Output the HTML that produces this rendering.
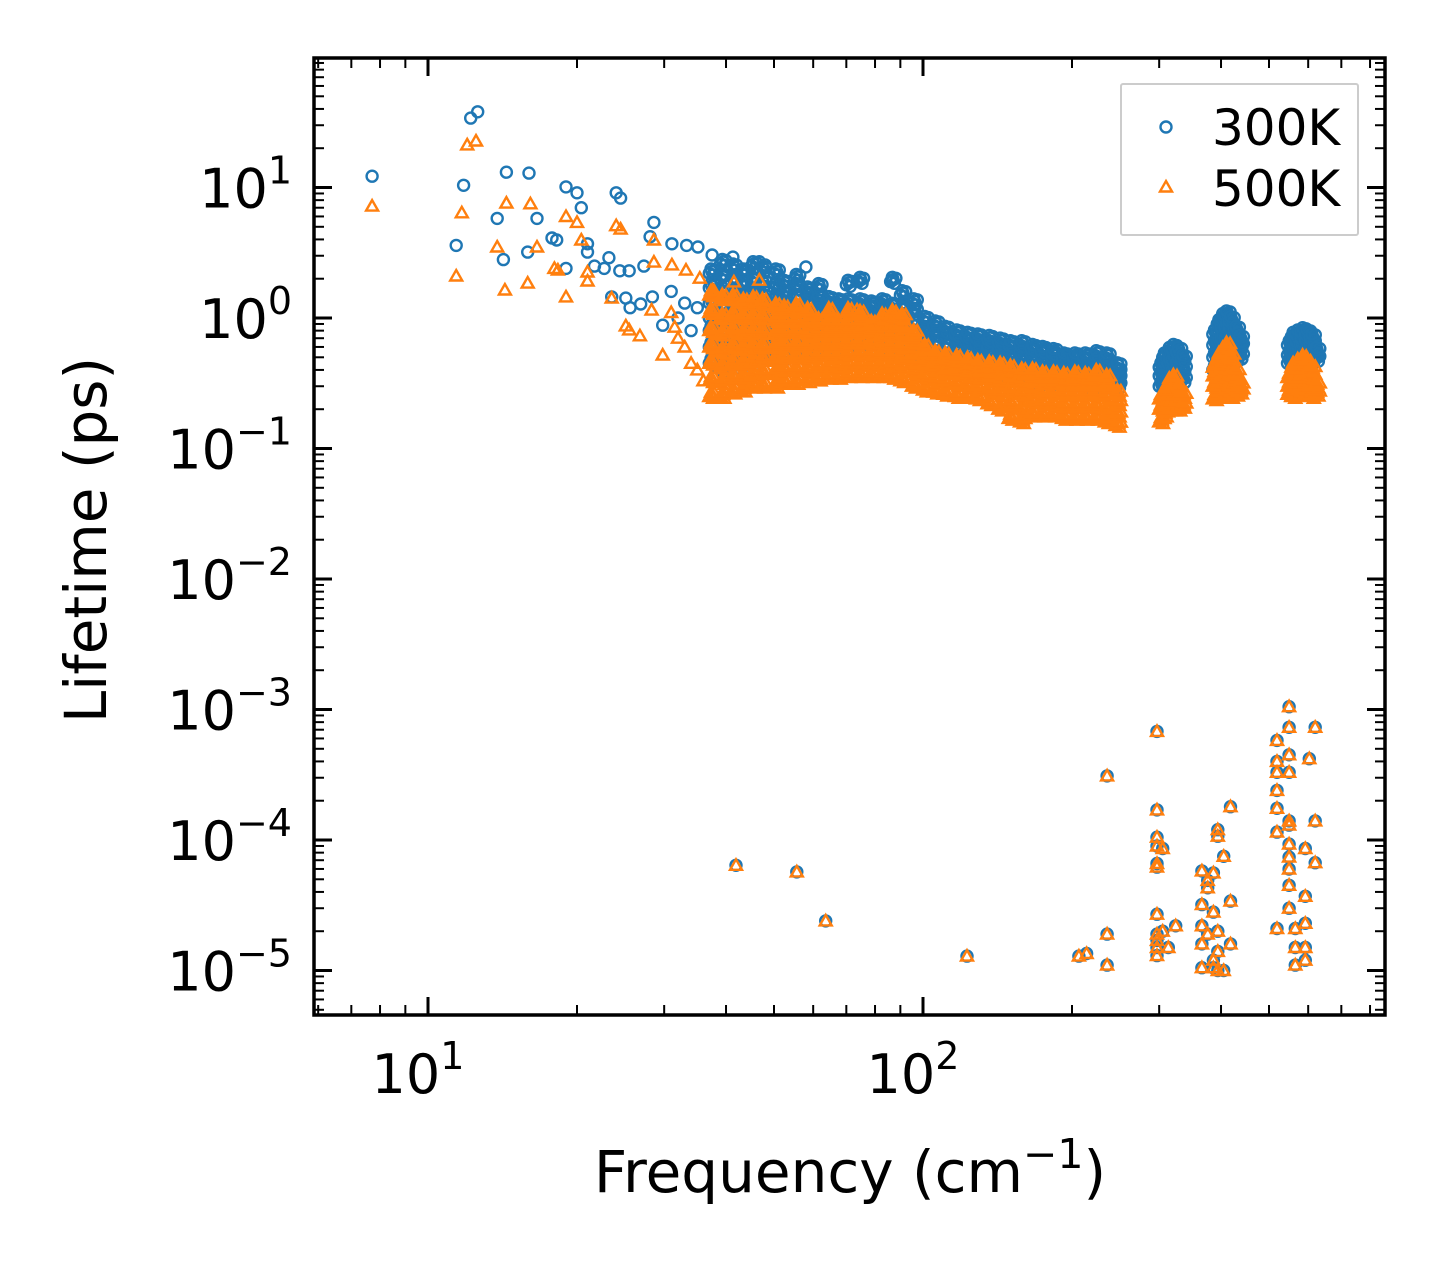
<!DOCTYPE html>
<html><head><meta charset="utf-8"><style>
html,body{margin:0;padding:0;background:#fff;}
svg{display:block;font-family:"DejaVu Sans","Liberation Sans",sans-serif;}
</style></head><body>
<svg id="chart" width="1443" height="1265" viewBox="0 0 1443 1265" xmlns="http://www.w3.org/2000/svg">
<rect width="1443" height="1265" fill="#fff"/>
<g id="marks"></g>
<g id="axes"></g>
<g>
<rect x="1121" y="84" width="237" height="151" fill="#fff" fill-opacity="0.8" stroke="#ccc" stroke-width="2" rx="2"/>
<circle cx="1166" cy="127" r="5.5" fill="none" stroke="#1f77b4" stroke-width="2.4"/>
<text x="1212" y="145" font-size="50">300K</text>
<path d="M1166,181 L1172,191.5 L1160,191.5 Z" fill="none" stroke="#ff7f0e" stroke-width="2.4"/>
<text x="1212" y="206" font-size="50">500K</text>
</g>
<text x="850" y="1192" font-size="58" text-anchor="middle">Frequency (cm<tspan dy="-24" font-size="41">−1</tspan><tspan dy="24">)</tspan></text>
<text transform="translate(106,540) rotate(-90)" font-size="58" text-anchor="middle">Lifetime (ps)</text>
</svg>
<script>
// ---- data ----
const bandFreqs = [37,39,41,43,45,47,50,52,55,58,61,64,67,70,74,78,82,86,90,95,100,105,110,116,122,128,135,142,149,157,165,173,182,191,201,211,222,233,245,300,305,312,318,325,332,385,393,400,407,415,425,433,545,555,567,580,592,605,618];
const band300 = [
[0.45,0.6,0.8,1.0,1.3,1.7,2.2],[0.4,0.55,0.7,0.9,1.2,1.5,2.0,2.6],[0.42,0.5,0.65,0.85,1.1,1.4,1.9,2.4],[0.45,0.55,0.7,0.9,1.1,1.4,1.8,2.2],
[0.45,0.6,0.75,0.95,1.2,1.5,1.9,2.5],[0.5,0.6,0.75,0.9,1.1,1.4,1.8,2.3],[0.5,0.62,0.78,0.95,1.15,1.4,1.7,2.2],[0.5,0.65,0.8,1.0,1.2,1.5,1.8],
[0.52,0.65,0.8,0.95,1.15,1.4,1.7,2.0],[0.55,0.68,0.82,1.0,1.2,1.45,1.6],[0.55,0.7,0.85,1.0,1.2,1.4,1.7],[0.55,0.7,0.85,1.0,1.2,1.35],
[0.6,0.72,0.86,1.0,1.15,1.3],[0.6,0.72,0.85,1.0,1.15,1.3,1.8],[0.6,0.72,0.85,1.0,1.15,1.3,1.9],[0.6,0.72,0.85,1.0,1.15,1.25],
[0.6,0.72,0.85,1.0,1.15,1.3],[0.6,0.72,0.85,1.0,1.2,1.9],[0.55,0.7,0.85,1.0,1.2,1.5],[0.5,0.62,0.75,0.9,1.1,1.3],
[0.45,0.55,0.68,0.8,0.95],[0.42,0.52,0.62,0.75,0.88],[0.4,0.5,0.6,0.72,0.8],[0.4,0.48,0.58,0.68,0.75],[0.38,0.46,0.55,0.65,0.72],
[0.38,0.45,0.53,0.62,0.7],[0.36,0.44,0.52,0.6,0.68],[0.35,0.43,0.5,0.58,0.65],[0.34,0.42,0.5,0.57,0.62],[0.33,0.4,0.48,0.55,0.62],
[0.33,0.4,0.47,0.54,0.58],[0.32,0.39,0.46,0.52,0.56],[0.32,0.38,0.45,0.5,0.54],[0.31,0.37,0.43,0.48,0.5],[0.31,0.36,0.42,0.47,0.5],
[0.3,0.36,0.42,0.46,0.5],[0.3,0.35,0.41,0.46,0.52],[0.3,0.35,0.4,0.45,0.5],[0.3,0.34,0.38,0.42],
[0.3,0.36,0.42],[0.3,0.35,0.42,0.5],[0.32,0.38,0.45,0.55],[0.33,0.4,0.48,0.58],[0.32,0.38,0.46,0.55],[0.33,0.4,0.48],
[0.4,0.5,0.62,0.75],[0.42,0.52,0.65,0.8,0.9],[0.45,0.55,0.7,0.85,1.0],[0.45,0.55,0.7,0.85,1.05],[0.45,0.55,0.7,0.85,0.95],[0.48,0.58,0.7,0.8],[0.5,0.6,0.68],
[0.45,0.52,0.62],[0.45,0.55,0.65,0.72],[0.47,0.56,0.66,0.75],[0.48,0.58,0.7,0.78],[0.48,0.58,0.68,0.75],[0.47,0.55,0.63,0.7],[0.48,0.55]
];
const band500 = [
[0.25,0.33,0.45,0.6,0.8,1.1,1.5],[0.25,0.32,0.42,0.55,0.75,1.0,1.4],[0.27,0.35,0.45,0.6,0.8,1.05,1.4],[0.28,0.35,0.45,0.58,0.75,1.0,1.3],
[0.3,0.37,0.47,0.6,0.78,1.0,1.35],[0.3,0.38,0.48,0.6,0.78,1.0,1.3],[0.3,0.38,0.48,0.6,0.75,0.95,1.2],[0.32,0.4,0.5,0.62,0.78,0.95,1.15],
[0.32,0.4,0.5,0.62,0.78,0.95,1.2],[0.33,0.4,0.5,0.62,0.76,0.92,1.1],[0.34,0.42,0.52,0.64,0.78,0.92],[0.35,0.42,0.52,0.64,0.78,0.9,1.1],
[0.35,0.43,0.52,0.64,0.78,0.9],[0.36,0.44,0.53,0.65,0.78,0.9,1.1],[0.36,0.44,0.53,0.65,0.78,0.9,1.05],[0.36,0.44,0.53,0.64,0.76,0.88],
[0.36,0.44,0.52,0.63,0.75,0.88,1.0],[0.35,0.43,0.52,0.62,0.74,0.88,1.05],[0.33,0.42,0.5,0.6,0.72,0.85,1.0],[0.3,0.38,0.46,0.55,0.65,0.75],
[0.28,0.35,0.42,0.5,0.58],[0.27,0.33,0.4,0.47,0.52],[0.26,0.32,0.38,0.44,0.5],[0.25,0.31,0.37,0.43,0.48],[0.25,0.3,0.36,0.42,0.46],
[0.24,0.29,0.35,0.4,0.44],[0.22,0.28,0.34,0.39,0.43],[0.2,0.26,0.32,0.38,0.42],[0.17,0.22,0.28,0.34,0.4],[0.16,0.2,0.26,0.32,0.38],
[0.18,0.23,0.28,0.33,0.38],[0.18,0.22,0.27,0.32,0.36],[0.18,0.22,0.27,0.32,0.36],[0.17,0.21,0.26,0.31,0.35],[0.17,0.21,0.26,0.31,0.36],
[0.17,0.21,0.26,0.31,0.35],[0.17,0.21,0.26,0.31,0.37],[0.16,0.2,0.25,0.3,0.34],[0.15,0.18,0.22,0.26],
[0.16,0.2,0.24],[0.18,0.22,0.26],[0.2,0.24,0.28,0.32],[0.2,0.24,0.28,0.34],[0.2,0.24,0.28],[0.21,0.25],
[0.24,0.3,0.36,0.42],[0.25,0.3,0.36,0.44,0.5],[0.25,0.3,0.37,0.45,0.55],[0.26,0.32,0.38,0.46,0.6],[0.25,0.3,0.37,0.44,0.5],[0.26,0.32,0.38],[0.27,0.3],
[0.26,0.3,0.35],[0.25,0.3,0.36,0.42],[0.26,0.32,0.38,0.45],[0.27,0.32,0.38,0.48],[0.26,0.32,0.38,0.44],[0.25,0.3,0.35,0.4],[0.26,0.3]
];
const scatter300 = [[7.71,12.2],[12.2,34],[12.6,38],[11.8,10.4],[11.4,3.6],[14.4,13.1],[16.0,12.9],[14.2,2.8],[13.8,5.8],[16.6,5.8],[15.9,3.2],
[19.0,10.1],[20.0,9.1],[20.4,7.0],[19.0,2.4],[17.8,4.1],[18.2,3.96],[21,3.7],[21,3.2],[24.0,9.1],[24.5,8.3],[28.6,5.4],[28.1,4.2],[27.3,2.5],
[23.2,2.9],[24.4,2.3],[25.5,2.3],[21.7,2.5],[22.7,2.4],[25.1,1.42],[23.5,1.45],[25.6,1.2],[26.9,1.28],[29.8,0.88],[28.4,1.45],[31.1,3.7],
[33.3,3.6],[35.1,3.5],[37.5,3.04],[41.3,2.93],[46.7,2.7],[48.0,2.55],[58.0,2.46],[73.6,1.92],[86.7,1.95],[31,1.6],[33,1.3],[35,1.2],[32,1.0],[34,0.8]];
const scatter500 = [[7.71,7.2],[12.0,21.2],[12.5,22.7],[11.7,6.4],[11.4,2.1],[13.8,3.5],[14.3,1.64],[14.4,7.6],[16.1,7.5],[15.9,1.85],[16.6,3.5],
[19.0,6.0],[20.0,5.4],[20.4,3.96],[19.0,1.45],[18.0,2.4],[18.3,2.33],[21.0,2.25],[21.0,1.92],[24.0,5.1],[24.5,4.8],[23.5,1.42],[25.1,0.87],
[28.6,3.96],[28.6,2.68],[26.8,0.73],[29.8,0.52],[28.3,1.15],[25.5,0.81],[31.1,2.55],[33.2,2.33],[35.4,2.02],[37.6,1.64],[41.5,1.89],[46.7,1.95],
[73.6,1.15],[86.7,1.15],[31,1.1],[32,0.7],[33,0.6],[34,0.45],[35,0.4],[36,0.33],[31.5,0.85]];
const lowModes = [[41.9,6.4e-5],[55.6,5.7e-5],[63.6,2.4e-5],[122.7,1.29e-5],[206.5,1.29e-5],[214,1.35e-5],[235.5,3.1e-4],[235.5,1.9e-5],[235.5,1.1e-5],
[297,6.8e-4],[297,1.7e-4],[297,1.05e-4],[297,9e-5],[297,6.6e-5],[297,6.2e-5],[297,2.7e-5],[297,1.9e-5],[297,1.7e-5],[297,1.5e-5],[297,1.3e-5],
[305,8.6e-5],[305,2e-5],[313,1.5e-5],[324,2.2e-5],
[366,5.8e-5],[366,3.2e-5],[366,2.2e-5],[366,1.6e-5],[366,1.05e-5],[376,4.9e-5],[376,4.3e-5],[376,1.9e-5],[386,5.6e-5],[386,2.8e-5],[386,1.2e-5],[386,1.05e-5],
[394,1.2e-4],[394,1.07e-4],[394,2e-5],[394,1.4e-5],[394,1e-5],[405,7.5e-5],[405,1e-5],[418,1.8e-4],[418,3.4e-5],[418,1.6e-5],
[519,5.8e-4],[519,4e-4],[519,3.3e-4],[519,2.4e-4],[519,1.75e-4],[519,1.15e-4],[519,2.1e-5],
[549,1.05e-3],[549,7.3e-4],[549,4.5e-4],[549,3.3e-4],[549,1.4e-4],[549,1.3e-4],[549,9.3e-5],[549,7.4e-5],[549,6.0e-5],[549,4.5e-5],[549,3e-5],
[565,1.5e-5],[565,1.1e-5],[565,2.1e-5],[592,8.6e-5],[592,3.7e-5],[592,2.3e-5],[592,1.5e-5],[592,1.2e-5],[603,4.2e-4],[620,7.3e-4],[620,1.4e-4],[620,6.7e-5]];
const xTickExps = [1,2];
const yTickExps = [1,0,-1,-2,-3,-4,-5];

// ---- axes ----
const L=314,R=1385,T=58,B=1015;
const X0=428, XD=495, Y0=318, YD=130.5;
function xs(f){return X0+(Math.log10(f)-1)*XD;}
function ys(t){return Y0-Math.log10(t)*YD;}
const NS="http://www.w3.org/2000/svg";
function mk(tag,attrs,parent){const e=document.createElementNS(NS,tag);for(const k in attrs)e.setAttribute(k,attrs[k]);parent.appendChild(e);return e;}
const marks=document.getElementById('marks');
const axes=document.getElementById('axes');

const clip=mk('clipPath',{id:'pc'},marks);
mk('rect',{x:L,y:T,width:R-L,height:B-T},clip);
const g3=mk('g',{'clip-path':'url(#pc)'},marks);


const g5=mk('g',{'clip-path':'url(#pc)'},marks);



function circ(f,t){const c=mk('circle',{cx:xs(f).toFixed(1),cy:ys(t).toFixed(1),r:5.5,fill:'none',stroke:'#1f77b4','stroke-width':2.4},g3);

}
function tri(f,t){const x=xs(f),y=ys(t);const p=mk('path',{d:`M${x.toFixed(1)},${(y-6).toFixed(1)} L${(x+6).toFixed(1)},${(y+4.5).toFixed(1)} L${(x-6).toFixed(1)},${(y+4.5).toFixed(1)} Z`,fill:'none',stroke:'#ff7f0e','stroke-width':2.4},g5);

}

// each band mode drawn with its near-degenerate branch neighbours (small jitter copies)
const jit=[[1,1],[1.012,1.035],[1.025,1.06],[1.018,0.97],[1.008,1.08]];
scatter300.forEach(d=>circ(d[0],d[1]));
bandFreqs.forEach((f,i)=>band300[i].forEach(t=>jit.forEach(j=>circ(f*j[0],t*j[1]))));
lowModes.forEach(d=>circ(d[0],d[1]));
scatter500.forEach(d=>tri(d[0],d[1]));
bandFreqs.forEach((f,i)=>band500[i].forEach(t=>jit.forEach(j=>tri(f*j[0],t*j[1]))));
lowModes.forEach(d=>tri(d[0],d[1]));

// ticks
function line(x1,y1,x2,y2,w){mk('line',{x1,y1,x2,y2,stroke:'#000','stroke-width':w},axes);}
for(let e=0;e<=3;e++){for(let m=1;m<10;m++){const x=xs(m*Math.pow(10,e));if(x<L||x>R)continue;const len=m===1?18:10,w=m===1?3:2;line(x,B,x,B-len,w);line(x,T,x,T+len,w);}}
for(let e=-6;e<=2;e++){for(let m=1;m<10;m++){const y=ys(m*Math.pow(10,e));if(y<T||y>B)continue;const len=m===1?18:10,w=m===1?3:2;line(L,y,L+len,y,w);line(R,y,R-len,y,w);}}
mk('rect',{x:L,y:T,width:R-L,height:B-T,fill:'none',stroke:'#000','stroke-width':3.5},axes);

xTickExps.forEach(e=>{const t=mk('text',{x:xs(Math.pow(10,e))-10,y:1093,'font-size':54,'text-anchor':'middle'},axes);


t.innerHTML=`10<tspan dy="-24" font-size="38">${e}</tspan>`;});
yTickExps.forEach(e=>{const t=mk('text',{x:292,y:ys(Math.pow(10,e))+20,'font-size':54,'text-anchor':'end'},axes);


const s=e<0?'−'+(-e):''+e;
t.innerHTML=`10<tspan dy="-24" font-size="38">${s}</tspan>`;});
</script>
</body></html>
